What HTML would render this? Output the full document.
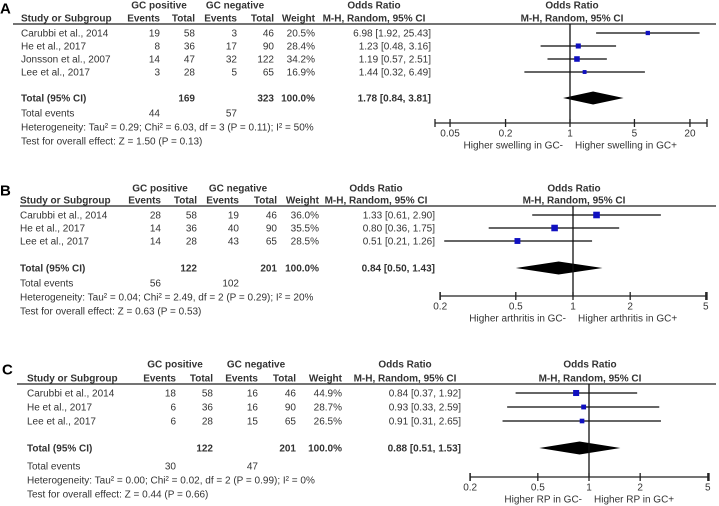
<!DOCTYPE html>
<html><head><meta charset="utf-8"><style>
body{margin:0;background:#fff;}
svg{display:block;font-family:"Liberation Sans",Arial,sans-serif;font-size:10px;fill:#333;}
.b{font-weight:bold;}
</style></head><body>
<svg id="svg" width="719" height="506" viewBox="0 0 719 506" xmlns="http://www.w3.org/2000/svg"></svg>
<script>
// Panel A data
const studiesA = ["Carubbi et al., 2014","He et al., 2017","Jonsson et al., 2007","Lee et al., 2017"];
const posEventsA = [19,8,14,3];
const posTotalA = [58,36,47,28];
const negEventsA = [3,17,32,5];
const negTotalA = [46,90,122,65];
const weightA = [20.5,28.4,34.2,16.9];
const orA = [6.98,1.23,1.19,1.44];
const loA = [1.92,0.48,0.57,0.32];
const hiA = [25.43,3.16,2.51,6.49];
const totalA = [1.78,0.84,3.81];
const ticksA = [0.05,0.2,1,5,20];
// Panel B data
const studiesB = ["Carubbi et al., 2014","He et al., 2017","Lee et al., 2017"];
const posEventsB = [28,14,14];
const posTotalB = [58,36,28];
const negEventsB = [19,40,43];
const negTotalB = [46,90,65];
const weightB = [36.0,35.5,28.5];
const orB = [1.33,0.80,0.51];
const loB = [0.61,0.36,0.21];
const hiB = [2.90,1.75,1.26];
const totalB = [0.84,0.50,1.43];
const ticksB = [0.2,0.5,1,2,5];
// Panel C data
const studiesC = ["Carubbi et al., 2014","He et al., 2017","Lee et al., 2017"];
const posEventsC = [18,6,6];
const posTotalC = [58,36,28];
const negEventsC = [16,16,15];
const negTotalC = [46,90,65];
const weightC = [44.9,28.7,26.5];
const orC = [0.84,0.93,0.91];
const loC = [0.37,0.33,0.31];
const hiC = [1.92,2.59,2.65];
const totalC = [0.88,0.51,1.53];
const ticksC = [0.2,0.5,1,2,5];

const NS="http://www.w3.org/2000/svg";
const svg=document.getElementById('svg');
function el(tag,attrs,parent){const e=document.createElementNS(NS,tag);for(const k in attrs)e.setAttribute(k,attrs[k]);(parent||svg).appendChild(e);return e;}
function txt(x,y,s,anchor,name,bold,parent,size){const t=el('text',{x:x,y:y,'text-anchor':anchor||'start',dy:'0.35em'},parent);if(bold)t.setAttribute('class','b');if(size)t.setAttribute('font-size',size);t.textContent=s;


return t;}
function f2(v){return v.toFixed(2);}

function panel(p){
  const g=el('g',{});
  
  
  const L=p.letter, c=p.cols;
  txt(p.letterX,p.letterY,L,'start','panel-label',true,g,15).setAttribute('fill','#000');
  txt(c.posC,p.h1,'GC positive','middle','gc-positive-header',true,g);
  txt(c.negC,p.h1,'GC negative','middle','gc-negative-header',true,g);
  txt(c.orC,p.h1,'Odds Ratio','middle','odds-ratio-header',true,g);
  txt(p.fC,p.h1,'Odds Ratio','middle','forest-odds-ratio-header',true,g);
  txt(c.study,p.h2,'Study or Subgroup','start','study-header',true,g);
  txt(c.pe,p.h2,'Events','end','pos-events-header',true,g);
  txt(c.pt,p.h2,'Total','end','pos-total-header',true,g);
  txt(c.ne,p.h2,'Events','end','neg-events-header',true,g);
  txt(c.nt,p.h2,'Total','end','neg-total-header',true,g);
  txt(c.w,p.h2,'Weight','end','weight-header',true,g);
  txt(c.orC,p.h2,'M-H, Random, 95% CI','middle','or-method-header',true,g);
  txt(p.fC,p.h2,'M-H, Random, 95% CI','middle','forest-method-header',true,g);
  const hl=el('line',{x1:p.lineX,x2:716,y1:p.lineY,y2:p.lineY,stroke:'#222','stroke-width':1.3},g);
  
  
  const X=v=>p.x1+Math.log10(v)*p.dec;
  p.studies.forEach((s,i)=>{
    const y=p.rows[i];
    txt(c.study,y,s,'start','study-name',false,g);
    txt(c.pe,y,String(p.pe[i]),'end','pos-events',false,g);
    txt(c.pt,y,String(p.pt[i]),'end','pos-total',false,g);
    txt(c.ne,y,String(p.ne[i]),'end','neg-events',false,g);
    txt(c.nt,y,String(p.nt[i]),'end','neg-total',false,g);
    txt(c.w,y,p.w[i].toFixed(1)+'%','end','weight-value',false,g);
    txt(c.orR,y,f2(p.or[i])+' ['+f2(p.lo[i])+', '+f2(p.hi[i])+']','end','odds-ratio-ci',false,g);
    const ln=el('line',{x1:X(p.lo[i]),x2:X(p.hi[i]),y1:y,y2:y,stroke:'#333','stroke-width':1.4},g);
    
    
    const sz=p.sq*Math.sqrt(p.w[i]);
    const r=el('rect',{x:X(p.or[i])-sz/2,y:y-sz/2,width:sz,height:sz,fill:'#1010c0'},g);
    
    
  });
  const ty=p.totalY;
  txt(c.study,ty,'Total (95% CI)','start','total-label',true,g);
  txt(c.pt,ty,String(p.pt.reduce((a,b)=>a+b,0)),'end','pos-total-sum',true,g);
  txt(c.nt,ty,String(p.nt.reduce((a,b)=>a+b,0)),'end','neg-total-sum',true,g);
  txt(c.w,ty,'100.0%','end','weight-total',true,g);
  txt(c.orR,ty,f2(p.tot[0])+' ['+f2(p.tot[1])+', '+f2(p.tot[2])+']','end','pooled-odds-ratio',true,g);
  const dm=el('polygon',{points:`${X(p.tot[1])},${ty} ${X(p.tot[0])},${ty-6.5} ${X(p.tot[2])},${ty} ${X(p.tot[0])},${ty+6.5}`,fill:'#000'},g);
  
  
  txt(c.study,p.evY,'Total events','start','total-events-label',false,g);
  txt(c.pe,p.evY,String(p.pe.reduce((a,b)=>a+b,0)),'end','pos-events-sum',false,g);
  txt(c.ne,p.evY,String(p.ne.reduce((a,b)=>a+b,0)),'end','neg-events-sum',false,g);
  txt(c.study,p.evY+14,p.het,'start','heterogeneity-text',false,g);
  txt(c.study,p.evY+28,p.test,'start','overall-effect-text',false,g);
  const ax=el('line',{x1:p.axL,x2:p.axR,y1:p.axY,y2:p.axY,stroke:'#222','stroke-width':1.3},g);
  
  
  const vl=el('line',{x1:X(1),x2:X(1),y1:p.lineY,y2:p.axY,stroke:'#111','stroke-width':1.3},g);
  
  
  [p.axL,p.axR].forEach(xx=>{const e=el('line',{x1:xx,x2:xx,y1:p.axY-4,y2:p.axY+4,stroke:'#222','stroke-width':1.3},g);
    
    });
  p.ticks.forEach(t=>{
    const tk=el('line',{x1:X(t),x2:X(t),y1:p.axY-4,y2:p.axY+4,stroke:'#222','stroke-width':1.3},g);
    
    
    txt(X(t),p.axY+10,String(t),'middle','x-tick-label',false,g);
  });
  txt(X(1)-7,p.axY+22,p.left,'end','favours-left-label',false,g);
  txt(X(1)+5,p.axY+22,p.right,'start','favours-right-label',false,g);
}

panel({letter:'A',letterX:0,letterY:8,h1:5,h2:18,lineY:24,lineX:13,fC:572,sq:0.95,
  cols:{study:21,pe:160,pt:195,ne:237,nt:274,w:315,orC:374,orR:431,posC:159,negC:235},
  studies:studiesA,pe:posEventsA,pt:posTotalA,ne:negEventsA,nt:negTotalA,w:weightA,or:orA,lo:loA,hi:hiA,tot:totalA,
  rows:[33,46,59,72],totalY:98,evY:113,
  het:'Heterogeneity: Tau² = 0.29; Chi² = 6.03, df = 3 (P = 0.11); I² = 50%',
  test:'Test for overall effect: Z = 1.50 (P = 0.13)',
  x1:570,dec:92.2,axL:435,axR:707,axY:123,ticks:ticksA,
  left:'Higher swelling in GC-',right:'Higher swelling in GC+'});
panel({letter:'B',letterX:0,letterY:190,h1:188,h2:200,lineY:206,lineX:20,fC:574,sq:1.1,
  cols:{study:20,pe:161,pt:197,ne:239,nt:277,w:319,orC:376,orR:435,posC:160,negC:238},
  studies:studiesB,pe:posEventsB,pt:posTotalB,ne:negEventsB,nt:negTotalB,w:weightB,or:orB,lo:loB,hi:hiB,tot:totalB,
  rows:[215,228,241],totalY:268,evY:283,
  het:'Heterogeneity: Tau² = 0.04; Chi² = 2.49, df = 2 (P = 0.29); I² = 20%',
  test:'Test for overall effect: Z = 0.63 (P = 0.53)',
  x1:573,dec:190,axL:440,axR:707,axY:296,ticks:ticksB,
  left:'Higher arthritis in GC-',right:'Higher arthritis in GC+'});
panel({letter:'C',letterX:2,letterY:369,h1:364,h2:378,lineY:384,lineX:17,fC:590,sq:0.9,
  cols:{study:27,pe:176,pt:213,ne:258,nt:296,w:342,orC:405,orR:461,posC:175,negC:256},
  studies:studiesC,pe:posEventsC,pt:posTotalC,ne:negEventsC,nt:negTotalC,w:weightC,or:orC,lo:loC,hi:hiC,tot:totalC,
  rows:[393,407,421],totalY:448,evY:466,
  het:'Heterogeneity: Tau² = 0.00; Chi² = 0.02, df = 2 (P = 0.99); I² = 0%',
  test:'Test for overall effect: Z = 0.44 (P = 0.66)',
  x1:589,dec:170,axL:470,axR:709,axY:477,ticks:ticksC,
  left:'Higher RP in GC-',right:'Higher RP in GC+'});
</script>
</body></html>
